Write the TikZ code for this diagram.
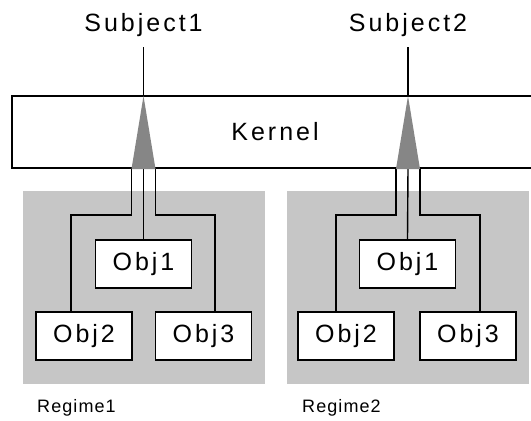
\documentclass[tikz,border=0pt]{standalone}
\usepackage{fontspec}
\setmainfont{Liberation Sans}[LetterSpace=12]
\newfontfamily\smallfont{Liberation Sans}[LetterSpace=6]
\definecolor{regimegray}{HTML}{C6C6C6}
\definecolor{trigray}{HTML}{868686}
\begin{document}
\begin{tikzpicture}[x=1pt,y=-1pt,
  bigtext/.style={font=\fontsize{25}{30}\selectfont, inner sep=0pt},
  reglbl/.style={font=\smallfont\fontsize{18}{21}\selectfont, inner sep=0pt},
  regime/.style={fill=regimegray, draw=none, inner sep=0pt},
  kernelbox/.style={draw, line width=1.6pt, fill=white, inner sep=0pt, minimum width=526pt, minimum height=72pt, font=\fontsize{25}{30}\selectfont},
  objbox/.style={draw, line width=1.3pt, fill=white, inner sep=0pt, minimum width=96pt, minimum height=48pt, font=\fontsize{25}{30}\selectfont},
  link/.style={line width=1.4pt},
  tri/.style={fill=trigray, draw=none}]
\useasboundingbox (0,0) rectangle (531,421);

% regimes
\node[regime, minimum width=242pt, minimum height=193pt] (reg1) at (144,287.5) {};
\node[regime, minimum width=242pt, minimum height=193pt] (reg2) at (408,287.5) {};

% subjects
\node[bigtext] (s1) at (143.5,25) {Subject1};
\node[bigtext] (s2) at (408,25) {Subject2};
\coordinate (s1b) at (143.5,47);
\coordinate (s2b) at (408,47);

% kernel
\node[kernelbox] (kernel) at (275,132) {Kernel};

% triangles
\coordinate (t1) at (143.5,96);
\coordinate (t1l) at (131.5,169);
\coordinate (t1m) at (143.5,169);
\coordinate (t1r) at (155.5,169);
\coordinate (t2) at (408,96);
\coordinate (t2l) at (396,169);
\coordinate (t2m) at (408,169);
\coordinate (t2r) at (420,169);

\draw[link] (s1b) -- (t1);
\draw[link] (s2b) -- (t2);

% objects regime 1
\node[objbox] (o11) at (143.5,264) {Obj1};
\node[objbox] (o12) at (84,336) {Obj2};
\node[objbox] (o13) at (203.5,336) {Obj3};
% objects regime 2
\node[objbox] (o21) at (407.5,264) {Obj1};
\node[objbox] (o22) at (346,336) {Obj2};
\node[objbox] (o23) at (468,336) {Obj3};

% links regime 1
\draw[link] (t1m) -- (o11.north);
\draw[link] (t1l) -- ++(0,46) -| ([xshift=-13pt]o12.north);
\draw[link] (t1r) -- ++(0,46) -| ([xshift=11.5pt]o13.north);
% links regime 2
\draw[link] (t2m) -- (o21.north);
\draw[link] (t2l) -- ++(0,46) -| ([xshift=-10pt]o22.north);
\draw[link] (t2r) -- ++(0,46) -| ([xshift=12pt]o23.north);

\fill[tri] (t1) -- (t1l) -- (t1r) -- cycle;
\fill[tri] (t2) -- (t2l) -- (t2r) -- cycle;

% regime labels
\node[reglbl, anchor=west] (r1) at (37,408) {Regime1};
\node[reglbl, anchor=west] (r2) at (302,408) {Regime2};
\end{tikzpicture}
\end{document}
